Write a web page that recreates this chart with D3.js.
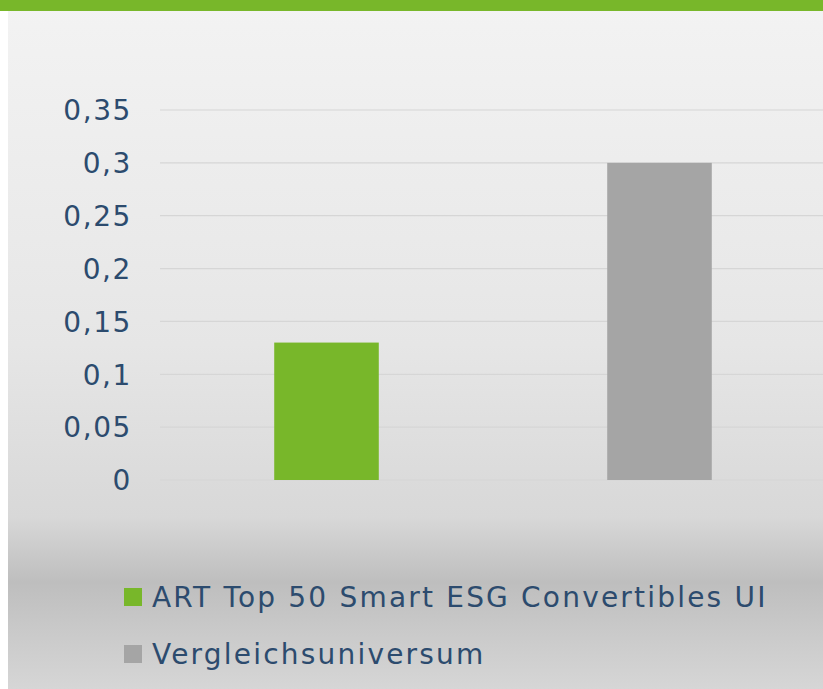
<!DOCTYPE html>
<html>
<head>
<meta charset="utf-8">
<script src="https://cdn.jsdelivr.net/npm/d3@7"></script>
<style>
  html, body { margin: 0; padding: 0; background: #fff; }
  svg { display: block; }
</style>
</head>
<body>
<div id="root"></div>
<script>
// data
var categories = ["ART Top 50 Smart ESG Convertibles UI", "Vergleichsuniversum"]
var values = [0.13, 0.30]
var barColors = ["#78b72a", "#a5a5a5"]
var yTicks = [0, 0.05, 0.1, 0.15, 0.2, 0.25, 0.3, 0.35]

var W = 823, H = 689
var textColor = "#2c4b6e"
var font = "'DejaVu Sans', sans-serif"

var svg = d3.select("#root")
            .append("svg")
            .attr("width", W)
            .attr("height", H)

// background gradient of the panel
var defs = svg.append("defs")
var grad = defs.append("linearGradient")
    .attr("id", "bg")
    .attr("x1", 0).attr("y1", 0).attr("x2", 0).attr("y2", 1)
grad.selectAll("stop")
    .data([[0, "#f3f3f3"], [0.5, "#e6e6e6"], [0.75, "#d8d8d8"], [0.845, "#bebebe"], [0.92, "#cacaca"], [1, "#d6d6d6"]])
    .enter().append("stop")
      .attr("offset", function(d){ return d[0] })
      .attr("stop-color", function(d){ return d[1] })

svg.append("rect")
    .attr("x", 8).attr("y", 0)
    .attr("width", W - 8).attr("height", H)
    .style("fill", "url(#bg)")

// green strip at top
svg.append("rect")
    .attr("x", 0).attr("y", 0)
    .attr("width", W).attr("height", 11)
    .style("fill", "#78b72a")

// scales
var y = d3.scaleLinear()
          .domain([0, 0.35])
          .range([480, 110])

var x = d3.scaleBand()
          .domain(categories)
          .range([160, 826])
          .paddingInner(0.686)
          .paddingOuter(0.343)

// gridlines
svg.append("g")
    .selectAll("line")
    .data(yTicks)
    .enter()
    .append("line")
      .attr("x1", 160)
      .attr("x2", W)
      .attr("y1", function(d){ return y(d) })
      .attr("y2", function(d){ return y(d) })
      .attr("stroke", "#d6d6d6")
      .attr("stroke-width", 1.2)

// y axis labels
var fmt = function(d){ return String(d).replace(".", ",") }
var yAxis = svg.append("g")
    .attr("transform", "translate(132,0)")
    .call(d3.axisLeft(y).tickValues(yTicks).tickFormat(fmt).tickSize(0).tickPadding(0))
yAxis.select(".domain").remove()
yAxis.selectAll("text")
    .attr("fill", textColor)
    .style("font-family", font)
    .style("font-size", "28px")
    .style("letter-spacing", "1.6px")
    .attr("dy", "0.35em")

// bars
svg.selectAll(".bar")
    .data(values)
    .enter()
    .append("rect")
      .attr("class", "bar")
      .attr("x", function(d, i){ return x(categories[i]) })
      .attr("y", function(d){ return y(d) })
      .attr("width", x.bandwidth())
      .attr("height", function(d){ return y(0) - y(d) })
      .style("fill", function(d, i){ return barColors[i] })

// legend
var legend = svg.append("g")
    .selectAll("g")
    .data(categories)
    .enter()
    .append("g")
      .attr("transform", function(d, i){ return "translate(124," + (588 + i * 57) + ")" })
legend.append("rect")
    .attr("width", 18).attr("height", 18)
    .style("fill", function(d, i){ return barColors[i] })
legend.append("text")
    .attr("x", 28)
    .attr("y", 9)
    .attr("dy", "0.35em")
    .attr("fill", textColor)
    .style("font-family", font)
    .style("font-size", "28px")
    .style("letter-spacing", "2.2px")
    .text(function(d){ return d })
</script>
</body>
</html>
